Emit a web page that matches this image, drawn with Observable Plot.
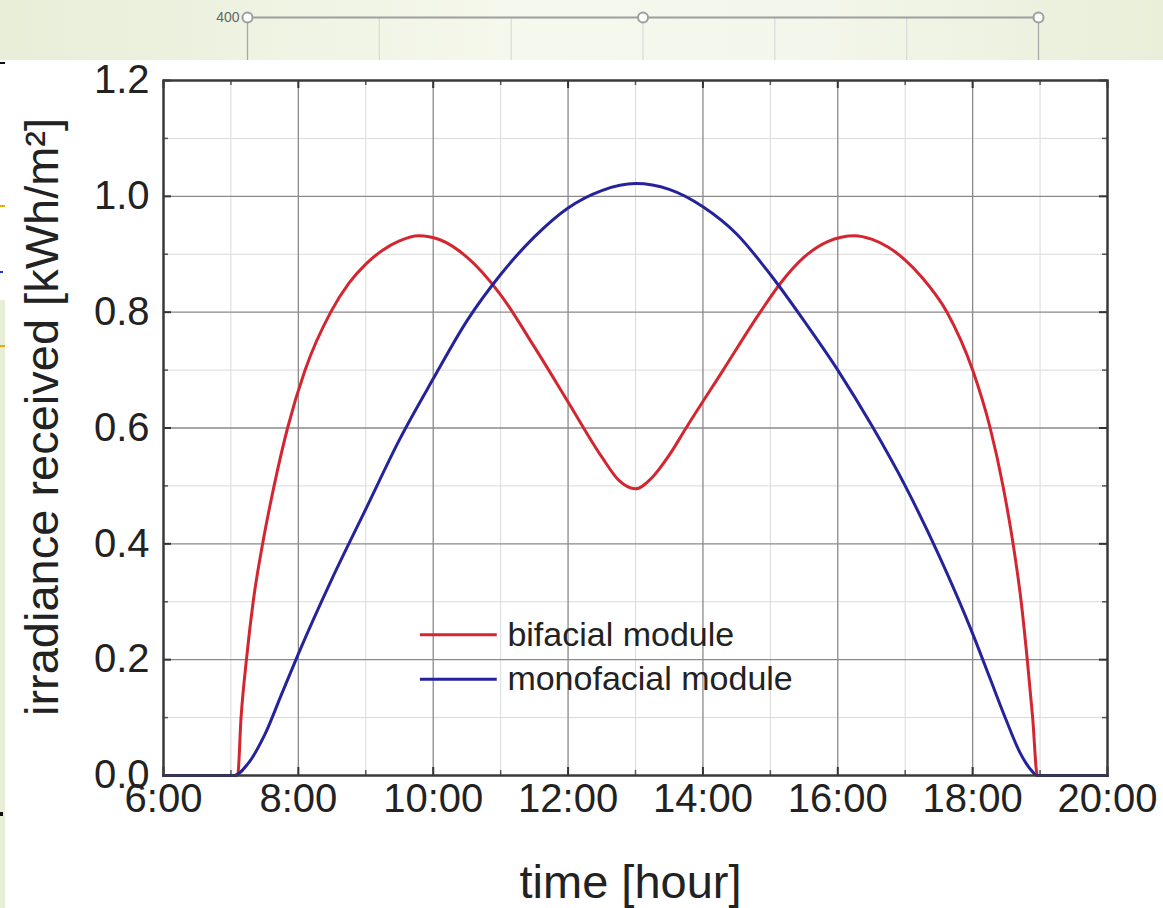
<!DOCTYPE html>
<html>
<head>
<meta charset="utf-8">
<script src="https://cdn.jsdelivr.net/npm/d3@7"></script>
<script src="https://cdn.jsdelivr.net/npm/@observablehq/plot@0.6"></script>
<style>
  html, body { margin: 0; padding: 0; background: #fff; width: 1163px; height: 908px; overflow: hidden; }
  #band { position: absolute; left: 0; top: 0; width: 1163px; height: 60px;
          background: linear-gradient(to right, #e8eed8, #f5f8ec 45%, #f3f6ea 70%, #e9efd9); }
  #strip { position: absolute; left: 0; top: 300px; width: 5px; height: 608px; background: #e8eed8; }
  #main { position: absolute; left: 0; top: 60px; }
  .tick { position: absolute; left: 0; width: 5px; height: 2px; }
</style>
</head>
<body>
<div id="band"></div>
<div id="main"></div>
<div id="strip"></div>
<div class="tick" style="top:62px;background:#111"></div>
<div class="tick" style="top:205px;background:#f0a800"></div>
<div class="tick" style="top:271px;width:3px;background:#2233dd"></div>
<div class="tick" style="top:345px;background:#f0a800"></div>
<div class="tick" style="top:812px;width:3px;height:4px;background:#111"></div>
<script>
// Daily irradiance on a bifacial vs. a monofacial module (kWh/m²)
const bifacialHours  = [6, 7.1, 7.15, 7.23, 7.33, 7.47, 7.64, 7.84, 8.1, 8.48, 8.75, 9.0, 9.25, 9.5, 9.78, 10.1, 10.5, 11.0, 11.5, 12.0, 12.5, 12.75, 13,
                        13.25, 13.5, 13.75, 14.3, 14.85, 15.15, 15.5, 15.85, 16.25, 16.5, 16.75, 17.0, 17.25, 17.62, 18.0, 18.26, 18.45, 18.6, 18.72, 18.81, 18.89, 18.96, 20];
const bifacialValues = [0, 0, 0.10, 0.20, 0.30, 0.40, 0.50, 0.60, 0.70, 0.80, 0.85, 0.883, 0.907, 0.923, 0.932, 0.925, 0.895, 0.83, 0.74, 0.645, 0.55, 0.51, 0.495,
                        0.515, 0.553, 0.60, 0.70, 0.80, 0.85, 0.895, 0.922, 0.932, 0.926, 0.912, 0.89, 0.86, 0.80, 0.70, 0.60, 0.50, 0.40, 0.30, 0.20, 0.10, 0, 0];

const monofacialHours  = [6, 7.05, 7.25, 7.5, 7.75, 8, 8.5, 9, 9.5, 10, 10.5, 11, 11.5, 12, 12.5, 13,
                          13.5, 14, 14.5, 15, 15.5, 16, 16.5, 17, 17.5, 18, 18.25, 18.5, 18.7, 18.9, 18.95, 20];
const monofacialValues = [0, 0, 0.02, 0.07, 0.14, 0.21, 0.34, 0.46, 0.58, 0.685, 0.785, 0.865, 0.93, 0.98, 1.01, 1.022,
                          1.012, 0.982, 0.935, 0.865, 0.785, 0.70, 0.605, 0.50, 0.38, 0.245, 0.17, 0.095, 0.04, 0.005, 0, 0];

const majorHours = [6, 8, 10, 12, 14, 16, 18, 20];
const minorHours = [7, 9, 11, 13, 15, 17, 19];
const majorY = [0, 0.2, 0.4, 0.6, 0.8, 1.0, 1.2];
const minorY = [0.1, 0.3, 0.5, 0.7, 0.9, 1.1];

const seriesNames  = ["bifacial module", "monofacial module"];
const seriesColors = ["#d42631", "#24239b"];
const legendHour = [9.81, 10.95, 11.1];
const legendLevel = [0.243, 0.166];

// remnant of the panel above: a single 400-level line with three nodes
const bandSlots = [0, 1, 2, 3, 4, 5, 6];
const bandNodes = [0, 3, 6];
const bandLevel = 400;

const bifacial = bifacialHours.map((h, i) => ({hour: h, value: bifacialValues[i]}));
const monofacial = monofacialHours.map((h, i) => ({hour: h, value: monofacialValues[i]}));
const legend = seriesNames.map((name, i) => ({name, color: seriesColors[i], level: legendLevel[i]}));

const W = 1163, H = 848;
const mL = 163, mR = 56, mT = 20, mB = 133;
const frameW = W - mL - mR, frameH = H - mT - mB;
const tickLen = 8, minorLen = 5;

const chart = Plot.plot({
  width: W, height: H,
  marginLeft: mL, marginRight: mR, marginTop: mT, marginBottom: mB,
  style: {fontFamily: "'Liberation Sans', Arial, sans-serif", fontSize: "40px", color: "#222", background: "transparent", overflow: "visible"},
  x: {domain: [6, 20], axis: null},
  y: {domain: [0, 1.2], axis: null},
  marks: [
    Plot.gridX(minorHours, {stroke: "#dadada", strokeOpacity: 1, strokeWidth: 1}),
    Plot.gridY(minorY, {stroke: "#dadada", strokeOpacity: 1, strokeWidth: 1}),
    Plot.gridX(majorHours.slice(1, -1), {stroke: "#8a8a8a", strokeOpacity: 1, strokeWidth: 1.3}),
    Plot.gridY(majorY.slice(1, -1), {stroke: "#8a8a8a", strokeOpacity: 1, strokeWidth: 1.3}),
    // inward ticks on all four sides
    Plot.tickX(majorHours, {x: d => d, insetTop: frameH - tickLen, stroke: "#333", strokeWidth: 2}),
    Plot.tickX(majorHours, {x: d => d, insetBottom: frameH - tickLen, stroke: "#333", strokeWidth: 2}),
    Plot.tickX(minorHours, {x: d => d, insetTop: frameH - minorLen, stroke: "#555", strokeWidth: 1.5}),
    Plot.tickX(minorHours, {x: d => d, insetBottom: frameH - minorLen, stroke: "#555", strokeWidth: 1.5}),
    Plot.tickY(majorY, {y: d => d, insetRight: frameW - tickLen, stroke: "#333", strokeWidth: 2}),
    Plot.tickY(majorY, {y: d => d, insetLeft: frameW - tickLen, stroke: "#333", strokeWidth: 2}),
    Plot.tickY(minorY, {y: d => d, insetRight: frameW - minorLen, stroke: "#555", strokeWidth: 1.5}),
    Plot.tickY(minorY, {y: d => d, insetLeft: frameW - minorLen, stroke: "#555", strokeWidth: 1.5}),
    Plot.line(bifacial, {x: "hour", y: "value", stroke: seriesColors[0], strokeWidth: 3, curve: "monotone-x"}),
    Plot.line(monofacial, {x: "hour", y: "value", stroke: seriesColors[1], strokeWidth: 3, curve: "monotone-x"}),
    Plot.frame({stroke: "#3a3a3a", strokeWidth: 2.5}),
    // tick labels
    Plot.axisX(majorHours, {anchor: "bottom", tickSize: 0, tickPadding: 8, tickFormat: d => `${d}:00`, label: null, fontSize: 40}),
    Plot.axisY(majorY, {anchor: "left", tickSize: 0, tickPadding: 14, tickFormat: d => d.toFixed(1), label: null, fontSize: 40}),
    // axis titles
    Plot.text(["time [hour]"], {frameAnchor: "bottom", textAnchor: "middle", lineAnchor: "bottom", dx: -5, dy: 122, fontSize: 47, fill: "#222"}),
    Plot.text(["irradiance received [kWh/m²]"], {frameAnchor: "left", textAnchor: "middle", rotate: -90, lineAnchor: "bottom", dx: -106, dy: -11, fontSize: 47, fill: "#222"}),
    // legend
    Plot.ruleY(legend, {y: "level", x1: legendHour[0], x2: legendHour[1], stroke: "color", strokeWidth: 3}),
    Plot.text(legend, {y: "level", x: legendHour[2], text: "name", textAnchor: "start", fontSize: 34, fill: "#222"})
  ]
});
document.getElementById("main").appendChild(chart);

const band = Plot.plot({
  width: W, height: 60,
  marginLeft: 247, marginRight: 125, marginTop: 17, marginBottom: 0,
  style: {fontFamily: "'Liberation Sans', Arial, sans-serif", fontSize: "14px", background: "transparent", overflow: "visible"},
  x: {domain: [0, 6], axis: null},
  y: {domain: [300, bandLevel], axis: null},
  marks: [
    Plot.ruleX(bandSlots, {x: d => d, y1: 300, y2: bandLevel, stroke: d => (d === 0 || d === 6) ? "#a9a9a9" : "#dcdcdc", strokeWidth: 1.3}),
    Plot.ruleY([bandLevel], {x1: 0, x2: 6, stroke: "#9e9e9e", strokeWidth: 2}),
    Plot.dot(bandNodes, {x: d => d, y: bandLevel, r: 5, fill: "#fff", stroke: "#9e9e9e", strokeWidth: 2}),
    Plot.text([bandLevel], {x: 0, y: d => d, text: d => String(d), dx: -8, textAnchor: "end", fontSize: 14, fill: "#666"})
  ]
});
band.style.position = "absolute";
band.style.left = "0px";
band.style.top = "0px";
document.getElementById("band").appendChild(band);
</script>
</body>
</html>
